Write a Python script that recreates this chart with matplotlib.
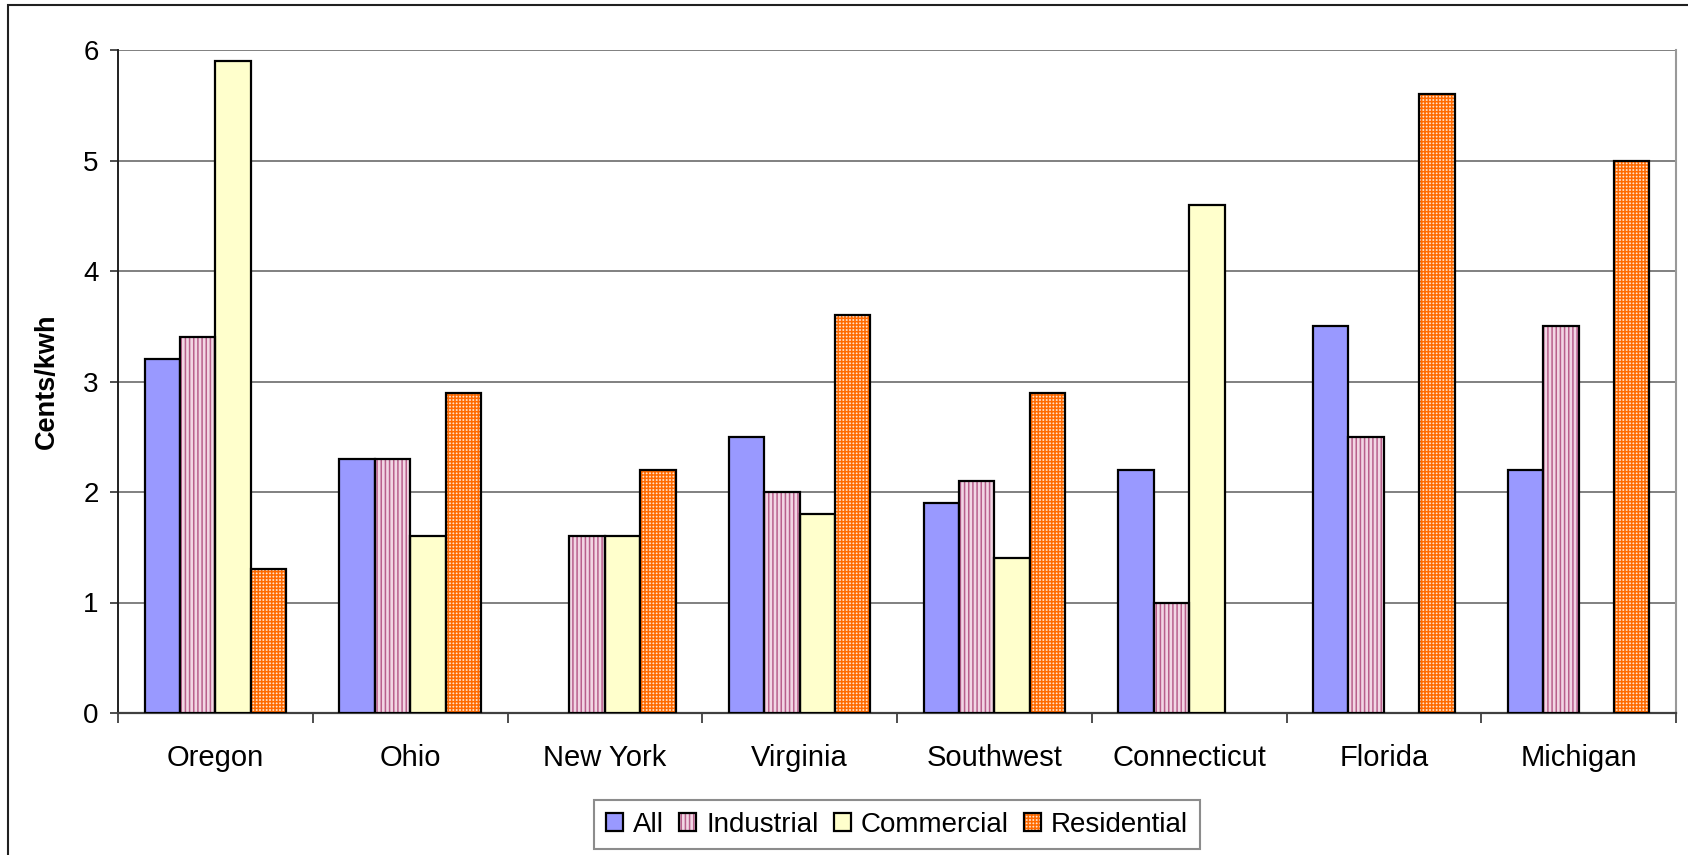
import numpy as np
import matplotlib
matplotlib.use("Agg")
import matplotlib.pyplot as plt
from matplotlib.patches import Rectangle
from matplotlib.legend_handler import HandlerTuple

regions = ["Oregon", "Ohio", "New York", "Virginia", "Southwest", "Connecticut", "Florida", "Michigan"]
series_names = ["All", "Industrial", "Commercial", "Residential"]
all_vals = [3.2, 2.3, np.nan, 2.5, 1.9, 2.2, 3.5, 2.2]
industrial_vals = [3.4, 2.3, 1.6, 2.0, 2.1, 1.0, 2.5, 3.5]
commercial_vals = [5.9, 1.6, 1.6, 1.8, 1.4, 4.6, np.nan, np.nan]
residential_vals = [1.3, 2.9, 2.2, 3.6, 2.9, np.nan, 5.6, 5.0]
y_ticks = [0, 1, 2, 3, 4, 5, 6]

series = [all_vals, industrial_vals, commercial_vals, residential_vals]
faces = ["#9999FF", "#F2D6E4", "#FFFFCC", "#FFE2CC"]
hatches = [None, "||||", None, "+++++"]
hatch_cols = [None, "#B8608C", None, "#FF6A00"]

plt.rcParams["font.family"] = ["Liberation Sans", "DejaVu Sans"]
plt.rcParams["hatch.linewidth"] = 1.1

W, H = 1688, 855
fig = plt.figure(figsize=(W / 100, H / 100), dpi=100)
ax = fig.add_axes([118 / W, 1 - 713 / H, (1676 - 118) / W, (713 - 50) / H])

n = len(regions)
x = np.arange(n)
bw = 1 / 5.5
handles = []
for i, (vals, fc, h, hc) in enumerate(zip(series, faces, hatches, hatch_cols)):
    pos = x + (i - 1.5) * bw
    if h:
        b1 = ax.bar(pos, vals, bw, facecolor=fc, edgecolor=hc, hatch=h, linewidth=0, zorder=3)
        b2 = ax.bar(pos, vals, bw, facecolor="none", edgecolor="black", linewidth=1.6, zorder=4)
        handles.append((b1.patches[0], b2.patches[0]))
    else:
        b = ax.bar(pos, vals, bw, facecolor=fc, edgecolor="black", linewidth=1.6, zorder=3)
        handles.append(b.patches[0])

ax.set_xlim(-0.5, n - 0.5)
ax.set_ylim(0, 6)
ax.set_yticks(y_ticks)
ax.set_yticklabels([str(t) for t in y_ticks], fontsize=20)
ax.set_xticks(x)
ax.set_xticklabels(regions, fontsize=21)
ax.set_xticks(np.arange(n + 1) - 0.5, minor=True)
ax.tick_params(axis="x", which="major", length=0, pad=22)
ax.tick_params(axis="x", which="minor", length=7, width=1.3, color="#404040")
ax.tick_params(axis="y", length=6, width=1.3, pad=8, color="#404040")
ax.yaxis.grid(True, color="#808080", linewidth=1.4, zorder=0)
ax.set_axisbelow(True)
ax.spines["top"].set_visible(False)
ax.spines["right"].set_color("#999999")
ax.spines["right"].set_linewidth(1.5)
ax.spines["left"].set_color("#202020")
ax.spines["left"].set_linewidth(1.4)
ax.spines["bottom"].set_color("#404040")
ax.spines["bottom"].set_linewidth(1.6)

ax.set_ylabel("Cents/kwh", fontsize=19.5, fontweight="bold")
ax.yaxis.set_label_coords((60 - 118) / (1676 - 118), 0.5)

leg = fig.legend(handles, series_names, loc="center", bbox_to_anchor=(897 / W, 1 - 824.5 / H),
                 ncol=4, fontsize=20, frameon=True, fancybox=False, edgecolor="#707070",
                 handlelength=0.62, handleheight=0.62, handletextpad=0.35, columnspacing=0.55,
                 borderpad=0.42, handler_map={tuple: HandlerTuple(ndivide=1)})
leg.get_frame().set_linewidth(1.5)

fig.patches.append(Rectangle((8 / W, -0.1), 1.2, 1 - 5 / H + 0.1, transform=fig.transFigure,
                             fill=False, edgecolor="#202020", linewidth=1.5))

fig.savefig("out.png", dpi=100)
